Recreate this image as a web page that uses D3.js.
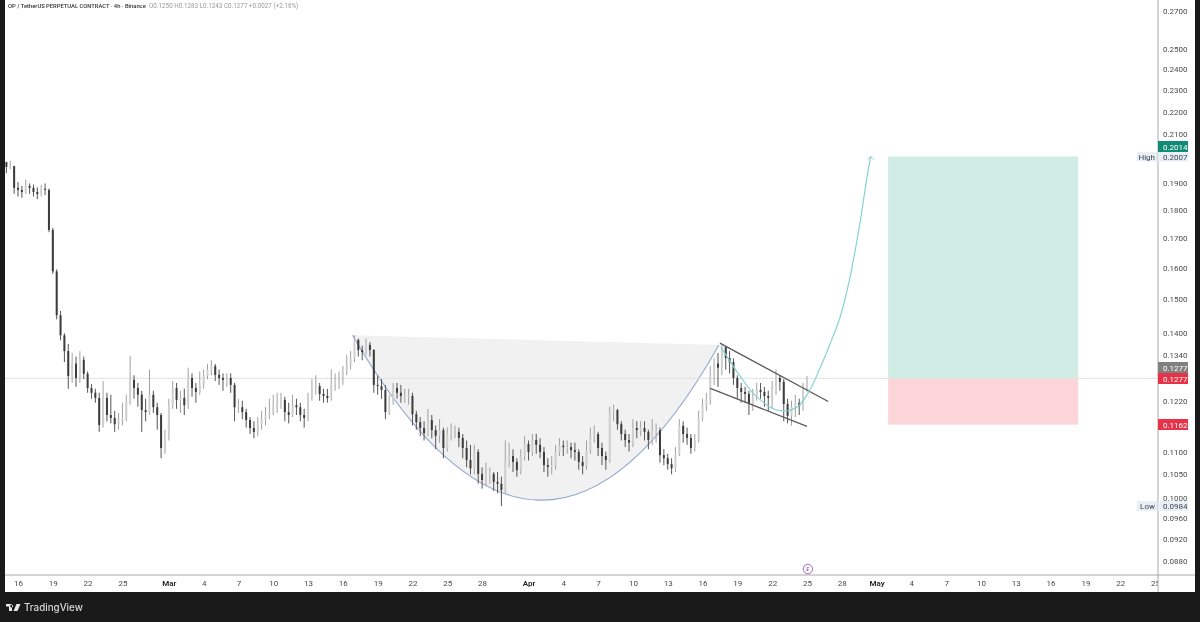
<!DOCTYPE html>
<html><head><meta charset="utf-8">
<script src="https://cdn.jsdelivr.net/npm/d3@7/dist/d3.min.js"></script>
<style>
html,body{margin:0;padding:0;background:#1a1a1a;overflow:hidden}
svg{display:block;font-family:Roboto,sans-serif;filter:blur(0.35px)}
</style></head><body><svg id="c" width="1200" height="622"></svg>
<script>
// --- chart data ---
const titleText = "OP / TetherUS PERPETUAL CONTRACT · 4h · Binance";
const ohlcText = "O0.1250 H0.1283 L0.1243 C0.1277 +0.0027 (+2.16%)";
const startDate = "2025-02-15T00:00:00Z";
const stepHours = 8;
const closes = [.1965,.1969,.1883,.1875,.1867,.1890,.1883,.1867,.1859,.1879,.1875,.1728,.1588,.1452,.1394,.1350,.1283,.1316,.1278,.1326,.1289,.1252,.1240,.1227,.1161,.1227,.1185,.1178,.1163,.1173,.1178,.1217,.1273,.1252,.1235,.1197,.1192,.1235,.1204,.1185,.1108,.1131,.1209,.1252,.1222,.1227,.1209,.1278,.1252,.1242,.1260,.1283,.1299,.1309,.1286,.1278,.1273,.1278,.1260,.1204,.1204,.1192,.1173,.1154,.1145,.1163,.1173,.1185,.1192,.1204,.1217,.1222,.1192,.1185,.1209,.1204,.1185,.1178,.1227,.1252,.1257,.1237,.1232,.1227,.1260,.1273,.1273,.1294,.1312,.1331,.1381,.1353,.1347,.1367,.1353,.1260,.1257,.1247,.1192,.1217,.1252,.1240,.1232,.1232,.1232,.1187,.1168,.1154,.1142,.1173,.1149,.1136,.1149,.1108,.1140,.1145,.1145,.1131,.1108,.1081,.1063,.1099,.1051,.1038,.1051,.1051,.1034,.1030,.1017,.1081,.1090,.1077,.1059,.1090,.1117,.1099,.1126,.1115,.1099,.1070,.1066,.1070,.1099,.1113,.1110,.1110,.1103,.1099,.1077,.1068,.1103,.1136,.1140,.1108,.1090,.1081,.1192,.1197,.1163,.1140,.1126,.1120,.1154,.1149,.1154,.1145,.1126,.1149,.1149,.1092,.1085,.1072,.1063,.1094,.1159,.1140,.1131,.1108,.1126,.1178,.1209,.1222,.1286,.1316,.1305,.1361,.1331,.1320,.1278,.1252,.1242,.1237,.1212,.1232,.1247,.1242,.1232,.1227,.1247,.1278,.1268,.1212,.1183,.1204,.1214,.1207,.1250,.1277];
const highs = [.1985,.1990,.1960,.1905,.1890,.1915,.1900,.1895,.1885,.1895,.1900,.1880,.1735,.1595,.1465,.1400,.1370,.1345,.1335,.1350,.1335,.1295,.1262,.1250,.1240,.1270,.1240,.1235,.1195,.1190,.1215,.1235,.1336,.1285,.1265,.1245,.1225,.1300,.1245,.1215,.1190,.1150,.1225,.1270,.1265,.1245,.1250,.1305,.1290,.1265,.1295,.1300,.1315,.1325,.1315,.1300,.1290,.1290,.1290,.1265,.1225,.1220,.1200,.1180,.1170,.1180,.1195,.1205,.1225,.1235,.1240,.1240,.1230,.1215,.1235,.1225,.1215,.1200,.1240,.1275,.1285,.1265,.1250,.1250,.1300,.1290,.1295,.1310,.1340,.1350,.1394,.1385,.1365,.1385,.1375,.1355,.1285,.1275,.1260,.1235,.1265,.1265,.1260,.1250,.1250,.1240,.1195,.1180,.1170,.1200,.1185,.1160,.1175,.1155,.1155,.1165,.1160,.1155,.1140,.1125,.1115,.1115,.1105,.1065,.1075,.1065,.1055,.1055,.1045,.1125,.1120,.1105,.1085,.1105,.1135,.1125,.1140,.1140,.1130,.1110,.1085,.1090,.1115,.1130,.1125,.1125,.1120,.1120,.1105,.1090,.1125,.1155,.1160,.1145,.1120,.1100,.1205,.1210,.1200,.1170,.1150,.1140,.1175,.1170,.1170,.1170,.1150,.1175,.1165,.1155,.1105,.1095,.1085,.1110,.1175,.1170,.1155,.1140,.1140,.1195,.1225,.1240,.1310,.1330,.1345,.1367,.1360,.1350,.1330,.1285,.1265,.1255,.1245,.1250,.1265,.1265,.1255,.1245,.1270,.1300,.1285,.1275,.1225,.1220,.1235,.1225,.1265,.1283];
const lows = [.1940,.1955,.1860,.1850,.1845,.1860,.1860,.1850,.1840,.1850,.1855,.1720,.1580,.1440,.1380,.1320,.1250,.1265,.1255,.1265,.1275,.1240,.1225,.1215,.1145,.1155,.1170,.1165,.1145,.1150,.1160,.1170,.1210,.1225,.1205,.1145,.1170,.1185,.1190,.1150,.1085,.1095,.1125,.1200,.1200,.1190,.1185,.1200,.1230,.1215,.1235,.1250,.1275,.1285,.1270,.1260,.1245,.1255,.1240,.1170,.1190,.1175,.1155,.1140,.1130,.1135,.1150,.1160,.1175,.1185,.1190,.1200,.1170,.1165,.1180,.1185,.1170,.1155,.1170,.1220,.1235,.1220,.1215,.1215,.1220,.1245,.1250,.1260,.1285,.1300,.1320,.1335,.1325,.1340,.1335,.1240,.1235,.1225,.1175,.1185,.1210,.1225,.1215,.1215,.1210,.1160,.1150,.1135,.1125,.1135,.1130,.1105,.1120,.1085,.1100,.1125,.1130,.1110,.1085,.1065,.1050,.1050,.1030,.1020,.1025,.1030,.1015,.1010,.0984,.1010,.1065,.1055,.1045,.1050,.1080,.1080,.1090,.1095,.1085,.1055,.1045,.1050,.1060,.1090,.1090,.1095,.1085,.1080,.1060,.1050,.1060,.1095,.1120,.1090,.1070,.1060,.1075,.1170,.1150,.1125,.1110,.1100,.1110,.1130,.1135,.1125,.1105,.1115,.1120,.1075,.1070,.1060,.1050,.1055,.1090,.1120,.1115,.1095,.1100,.1120,.1170,.1195,.1210,.1260,.1255,.1285,.1300,.1290,.1260,.1225,.1215,.1215,.1185,.1195,.1220,.1225,.1205,.1195,.1200,.1235,.1245,.1170,.1165,.1160,.1180,.1185,.1195,.1243];

const priceTicks = [.27,.25,.24,.23,.22,.21,.19,.18,.17,.16,.15,.14,.134,.122,.11,.105,.10,.096,.092,.088];
const dateTicks = ["2025-02-16","2025-02-19","2025-02-22","2025-02-25","2025-03-01","2025-03-04","2025-03-07","2025-03-10","2025-03-13","2025-03-16","2025-03-19","2025-03-22","2025-03-25","2025-03-28","2025-04-01","2025-04-04","2025-04-07","2025-04-10","2025-04-13","2025-04-16","2025-04-19","2025-04-22","2025-04-25","2025-04-28","2025-05-01","2025-05-04","2025-05-07","2025-05-10","2025-05-13","2025-05-16","2025-05-19","2025-05-22","2025-05-25"];
const dateLabels = ["16","19","22","25","Mar","4","7","10","13","16","19","22","25","28","Apr","4","7","10","13","16","19","22","25","28","May","4","7","10","13","16","19","22","25"];

const lastPrice = .1277, tpPrice = .2007, slPrice = .1162;
const boxDates = ["2025-05-02T00:00:00Z","2025-05-18T09:00:00Z"];
const cupStart = ["2025-03-16T20:00:00Z",.1394];
const cupEnd = ["2025-04-17T10:00:00Z",.1367];
const cupControl = ["2025-04-02T03:00:00Z",.0719];
const flagUpper = [["2025-04-17T12:00:00Z",.1372],["2025-04-26T20:00:00Z",.1218]];
const flagLower = [["2025-04-16T16:00:00Z",.1251],["2025-04-25T00:00:00Z",.1158]];
const projection = [["2025-04-17T14:00:00Z",.1361],["2025-04-19T04:00:00Z",.1286],["2025-04-20T14:00:00Z",.1232],["2025-04-22T14:00:00Z",.1196],["2025-04-24T03:00:00Z",.1204],["2025-04-25T06:00:00Z",.1247],["2025-04-26T03:00:00Z",.1304],["2025-04-26T23:00:00Z",.1367],["2025-04-27T20:00:00Z",.1444],["2025-04-28T16:00:00Z",.1561],["2025-04-29T13:00:00Z",.1746],["2025-04-30T05:00:00Z",.1933],["2025-04-30T12:00:00Z",.2007]];

// --- layout ---
const W=1200,H=622,L=5,R=1195,AX=1158,BOT=575,FRAME=592;
const svg=d3.select("#c");
const x=d3.scaleUtc().domain([new Date("2025-02-16T00:00:00Z"),new Date("2025-05-25T00:00:00Z")]).range([18,1155]);
const y=d3.scaleLog().domain([.27,.088]).range([11,561]);
const X=s=>x(new Date(s));

svg.append("rect").attr("width",W).attr("height",H).attr("fill","#1a1a1a");
svg.append("rect").attr("x",L).attr("y",0).attr("width",R-L).attr("height",FRAME).attr("fill","#fff");
const defs=svg.append("defs");
defs.append("clipPath").attr("id","plot").append("rect").attr("x",L).attr("y",0).attr("width",AX-L).attr("height",BOT);
defs.append("clipPath").attr("id","xclip").append("rect").attr("x",L).attr("y",BOT).attr("width",AX-L).attr("height",FRAME-BOT);

const plot=svg.append("g").attr("clip-path","url(#plot)");

// position boxes
plot.append("rect").attr("x",X(boxDates[0])).attr("width",X(boxDates[1])-X(boxDates[0])).attr("y",y(tpPrice)).attr("height",y(lastPrice)-y(tpPrice)).attr("fill","#cfece5");
plot.append("rect").attr("x",X(boxDates[0])).attr("width",X(boxDates[1])-X(boxDates[0])).attr("y",y(lastPrice)).attr("height",y(slPrice)-y(lastPrice)).attr("fill","#fbd5d8");

// cup
const p=d3.path();
p.moveTo(X(cupStart[0]),y(cupStart[1]));
p.quadraticCurveTo(X(cupControl[0]),y(cupControl[1]),X(cupEnd[0]),y(cupEnd[1]));
plot.append("path").attr("d",p.toString()+"Z").attr("fill","#f1f1f2");
plot.append("path").attr("d",p.toString()).attr("fill","none").attr("stroke","#92a8cf").attr("stroke-width",1.1);

// last price line
plot.append("line").attr("x1",L).attr("x2",AX).attr("y1",y(lastPrice)).attr("y2",y(lastPrice)).attr("stroke","#e3dfe3").attr("stroke-width",1);

// candles
const t0=new Date(startDate);
const candles=closes.map((c,i)=>({t:d3.utcHour.offset(t0,i*stepHours),o:i?closes[i-1]:highs[0],c,h:highs[i],l:lows[i]}));
const g=plot.append("g").style("filter","blur(0.3px)");
g.selectAll("line").data(candles).join("line")
 .attr("x1",d=>x(d.t)).attr("x2",d=>x(d.t)).attr("y1",d=>y(d.h)).attr("y2",d=>y(d.l))
 .attr("stroke",d=>d.c>=d.o?"#a0a0a0":"#555").attr("stroke-width",1);
g.selectAll("rect").data(candles).join("rect")
 .attr("x",d=>x(d.t)-1).attr("width",2)
 .attr("y",d=>y(Math.max(d.o,d.c))).attr("height",d=>Math.max(1,Math.abs(y(d.o)-y(d.c))))
 .attr("fill",d=>d.c>=d.o?"#cfcfcf":"#3c3c3c");

// flag
const ln=d3.line().x(d=>X(d[0])).y(d=>y(d[1]));
[flagUpper,flagLower].forEach(a=>plot.append("path").attr("d",ln(a)).attr("fill","none").attr("stroke","#5a5a5a").attr("stroke-width",1.3));

// projection
plot.append("path").attr("d",ln.curve(d3.curveCatmullRom)(projection)).attr("fill","none").attr("stroke","#86d2d2").attr("stroke-width",1.2);
const tip=projection[projection.length-1], tx=X(tip[0]), ty=y(tip[1]);
plot.append("path").attr("d",`M${tx-3},${ty+3}L${tx},${ty}L${tx+3},${ty+3}`).attr("fill","none").attr("stroke","#86d2d2").attr("stroke-width",1);

// title
svg.append("text").attr("x",8).attr("y",7.5).attr("font-size",5.8).attr("font-weight",500).attr("fill","#333").text(titleText);
svg.append("text").attr("x",149).attr("y",7.5).attr("font-size",6.3).attr("fill","#999").text(ohlcText);

// axes
const yAxis=d3.axisRight(y).tickValues(priceTicks).tickFormat(d3.format(".4f")).tickSize(0).tickPadding(0);
const ya=svg.append("g").attr("transform",`translate(${AX+5},0)`).call(yAxis);
ya.select(".domain").remove();
ya.selectAll("text").attr("font-size",8).attr("fill","#4a4a4a").attr("font-family","Roboto,sans-serif");

const tickDates=dateTicks.map(s=>new Date(s+"T00:00:00Z"));
const xAxis=d3.axisBottom(x).tickValues(tickDates).tickFormat((d,i)=>dateLabels[i]).tickSize(0).tickPadding(0);
const xa=svg.append("g").attr("clip-path","url(#xclip)").append("g").attr("transform",`translate(0,${BOT+5})`).call(xAxis);
xa.select(".domain").remove();
xa.selectAll("text").attr("font-size",8).attr("font-family","Roboto,sans-serif").attr("fill",(d,i)=>isNaN(+dateLabels[i])?"#222":"#4a4a4a").attr("font-weight",(d,i)=>isNaN(+dateLabels[i])?600:400);

// frame lines
svg.append("line").attr("x1",L).attr("x2",R).attr("y1",BOT).attr("y2",BOT).attr("stroke","#aaa");
svg.append("line").attr("x1",AX).attr("x2",AX).attr("y1",0).attr("y2",FRAME).attr("stroke","#aaa");

// price tags
const tags=[
 {label:"0.2014",y0:141,h:11,fill:"#118a76",color:"#fff"},
 {label:"0.2007",y0:152,h:9.5,fill:"#e8eff7",color:"#3b4652"},
 {label:"0.1277",y0:362,h:11,fill:"#808080",color:"#fff"},
 {label:"0.1277",y0:373,h:11,fill:"#e7334a",color:"#fff"},
 {label:"0.1162",y0:419,h:11,fill:"#e7334a",color:"#fff"},
 {label:"0.0984",y0:501,h:10,fill:"#e8eff7",color:"#3b4652"}];
tags.forEach(t=>{
 svg.append("rect").attr("x",AX).attr("y",t.y0).attr("width",30).attr("height",t.h).attr("fill",t.fill);
 svg.append("text").attr("x",AX+5).attr("y",t.y0+t.h/2+3).attr("font-size",8).attr("fill",t.color).text(t.label);
});
[["High",152,9.5],["Low",501,10]].forEach(([s,yy,h])=>{
 svg.append("rect").attr("x",AX-21).attr("y",yy).attr("width",20).attr("height",h).attr("fill","#e8eff7");
 svg.append("text").attr("x",AX-3).attr("y",yy+h/2+3).attr("text-anchor","end").attr("font-size",8).attr("fill","#3b4652").text(s);
});

// event marker
const mx=X("2025-04-25T02:00:00Z");
svg.append("circle").attr("cx",mx).attr("cy",569).attr("r",4.7).attr("fill","#fff").attr("stroke","#a568c4").attr("stroke-width",1);
svg.append("text").attr("x",mx).attr("y",571.2).attr("text-anchor","middle").attr("font-size",6).attr("fill","#7d4aa0").text("₣");

// footer brand
svg.append("path").attr("d","M6,604H12V611H9V606.5H6ZM13,606A1.4,1.4 0 1 0 13,606.01ZM16.5,604H20.5L17.5,611H13.5Z").attr("fill","#e8e8e8");
svg.append("text").attr("x",24).attr("y",610.5).attr("font-family","Inter,Roboto,sans-serif").attr("font-size",9.8).attr("font-weight",500).attr("fill","#d8d8d8").text("TradingView");
</script></body></html>
